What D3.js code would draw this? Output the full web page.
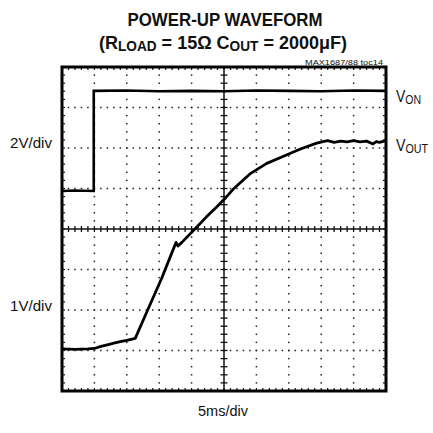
<!DOCTYPE html>
<html>
<head>
<meta charset="utf-8">
<script src="https://cdn.jsdelivr.net/npm/d3@7"></script>
<style>
  body { margin: 0; background: #fff; }
  svg text { font-family: "Liberation Sans Narrow", "Arial Narrow", "Liberation Sans", sans-serif; fill: #111; }
</style>
</head>
<body>
<div id="chart"></div>
<script>
var width = 433
var height = 433

// time in ms, traces in screen divisions (0 = centre line)
var vonTime = [0, 2, 4.9, 4.9, 10, 15, 20, 25, 30, 35, 40, 45, 50]
var vonDiv = [0.94, 0.95, 0.94, 3.41, 3.42, 3.40, 3.41, 3.40, 3.42, 3.41, 3.40, 3.42, 3.41]

var voutTime = [0, 2, 4, 5, 6, 7, 8, 9, 10, 11.3, 13, 15.4, 17.6, 17.9, 18.5, 20.5, 22.3, 23.9, 25.3, 26.4, 29, 31.6, 34.1, 36.7, 39.3, 40.3, 41, 42, 43, 44, 45, 46, 47, 48, 48.5, 49, 50]
var voutDiv = [-2.96, -2.97, -2.96, -2.95, -2.90, -2.86, -2.82, -2.78, -2.75, -2.70, -2.08, -1.21, -0.33, -0.42, -0.33, 0.0, 0.30, 0.55, 0.78, 0.98, 1.36, 1.62, 1.79, 1.97, 2.12, 2.16, 2.18, 2.14, 2.17, 2.15, 2.18, 2.15, 2.17, 2.10, 2.16, 2.14, 2.18]

var xDivs = d3.range(0, 51, 5)
var yDivs = d3.range(-4, 5, 1)
var xMinor = d3.range(0, 50.01, 1)
var yMinor = d3.range(-4, 4.01, 0.2)

var svg = d3.select("#chart").append("svg").attr("width", width).attr("height", height)

var x = d3.scaleLinear().domain([0, 50]).range([62, 386])
var y = d3.scaleLinear().domain([-4, 4]).range([391, 67])

var grid = svg.append("g")

// dotted grid
xDivs.filter(d => d > 0 && d < 50 && d != 25).forEach(function(t) {
    grid.selectAll(null).data(yMinor).enter().append("rect")
        .attr("x", x(t) - 0.75).attr("y", d => y(d) - 0.75)
        .attr("width", 1.5).attr("height", 1.5).attr("fill", "#222")
})
yDivs.filter(d => d > -4 && d < 4 && d != 0).forEach(function(v) {
    grid.selectAll(null).data(xMinor).enter().append("rect")
        .attr("x", d => x(d) - 0.75).attr("y", y(v) - 0.75)
        .attr("width", 1.5).attr("height", 1.5).attr("fill", "#222")
})

// centre axes with cross ticks
grid.append("line").attr("x1", x(25)).attr("x2", x(25)).attr("y1", y(-4)).attr("y2", y(4))
    .attr("stroke", "#111").attr("stroke-width", 1.5)
grid.append("line").attr("x1", x(0)).attr("x2", x(50)).attr("y1", y(0)).attr("y2", y(0))
    .attr("stroke", "#111").attr("stroke-width", 1.5)
grid.selectAll(".ytick").data(yMinor).enter().append("line")
    .attr("x1", x(25) - 3.5).attr("x2", x(25) + 3.5)
    .attr("y1", d => y(d)).attr("y2", d => y(d))
    .attr("stroke", "#111").attr("stroke-width", 1.3)
grid.selectAll(".xtick").data(xMinor).enter().append("line")
    .attr("x1", d => x(d)).attr("x2", d => x(d))
    .attr("y1", y(0) - 3).attr("y2", y(0) + 3)
    .attr("stroke", "#111").attr("stroke-width", 1.3)

// edge ticks
grid.selectAll(".etop").data(xMinor).enter().append("line")
    .attr("x1", d => x(d)).attr("x2", d => x(d)).attr("y1", y(4)).attr("y2", y(4) + 3)
    .attr("stroke", "#111").attr("stroke-width", 1.2)
grid.selectAll(".ebot").data(xMinor).enter().append("line")
    .attr("x1", d => x(d)).attr("x2", d => x(d)).attr("y1", y(-4)).attr("y2", y(-4) - 3)
    .attr("stroke", "#111").attr("stroke-width", 1.2)
grid.selectAll(".eleft").data(yMinor).enter().append("line")
    .attr("x1", x(0)).attr("x2", x(0) + 3).attr("y1", d => y(d)).attr("y2", d => y(d))
    .attr("stroke", "#111").attr("stroke-width", 1.2)
grid.selectAll(".eright").data(yMinor).enter().append("line")
    .attr("x1", x(50)).attr("x2", x(50) - 3).attr("y1", d => y(d)).attr("y2", d => y(d))
    .attr("stroke", "#111").attr("stroke-width", 1.2)

// frame
svg.append("rect").attr("x", x(0)).attr("y", y(4))
    .attr("width", x(50) - x(0)).attr("height", y(-4) - y(4))
    .attr("fill", "none").attr("stroke", "#000").attr("stroke-width", 3)

// traces
var line = d3.line().x(d => x(d[0])).y(d => y(d[1]))
svg.append("path").datum(d3.zip(vonTime, vonDiv)).attr("d", line)
    .attr("fill", "none").attr("stroke", "#000").attr("stroke-width", 2.6)
svg.append("path").datum(d3.zip(voutTime, voutDiv)).attr("d", line)
    .attr("fill", "none").attr("stroke", "#000").attr("stroke-width", 2.8)
    .attr("stroke-linejoin", "round")

// titles (narrowed to match the condensed face)
var title = svg.append("g").attr("font-weight", "bold").attr("text-anchor", "middle")
title.append("text").attr("x", 225).attr("y", 26).attr("font-size", 18)
    .attr("textLength", 195).attr("lengthAdjust", "spacingAndGlyphs").text("POWER-UP WAVEFORM")
var t2 = title.append("text").attr("x", 223).attr("y", 48.5).attr("font-size", 18.5)
    .attr("textLength", 248).attr("lengthAdjust", "spacingAndGlyphs")
t2.append("tspan").text("(R")
t2.append("tspan").attr("font-size", 14).attr("dy", 2.5).text("LOAD")
t2.append("tspan").attr("dy", -2.5).text(" = 15Ω C")
t2.append("tspan").attr("font-size", 14).attr("dy", 2.5).text("OUT")
t2.append("tspan").attr("dy", -2.5).text(" = 2000μF)")

svg.append("text").attr("x", 383).attr("y", 64.5).attr("text-anchor", "end")
    .attr("font-size", 7.5).attr("fill", "#444")
    .attr("textLength", 78).attr("lengthAdjust", "spacingAndGlyphs").text("MAX1687/88 toc14")

// side labels
svg.append("text").attr("x", 10).attr("y", 148).attr("font-size", 14)
    .attr("textLength", 42).attr("lengthAdjust", "spacingAndGlyphs").text("2V/div")
svg.append("text").attr("x", 10).attr("y", 311).attr("font-size", 14)
    .attr("textLength", 42).attr("lengthAdjust", "spacingAndGlyphs").text("1V/div")
svg.append("text").attr("x", 198).attr("y", 416).attr("font-size", 14)
    .attr("textLength", 50).attr("lengthAdjust", "spacingAndGlyphs").text("5ms/div")

var von = svg.append("text").attr("x", 396).attr("y", 102).attr("font-size", 16)
    .attr("textLength", 25).attr("lengthAdjust", "spacingAndGlyphs")
von.append("tspan").text("V")
von.append("tspan").attr("font-size", 12).attr("dy", 2).text("ON")
var vout = svg.append("text").attr("x", 396).attr("y", 151).attr("font-size", 16)
    .attr("textLength", 32).attr("lengthAdjust", "spacingAndGlyphs")
vout.append("tspan").text("V")
vout.append("tspan").attr("font-size", 12).attr("dy", 2).text("OUT")
</script>
</body>
</html>
